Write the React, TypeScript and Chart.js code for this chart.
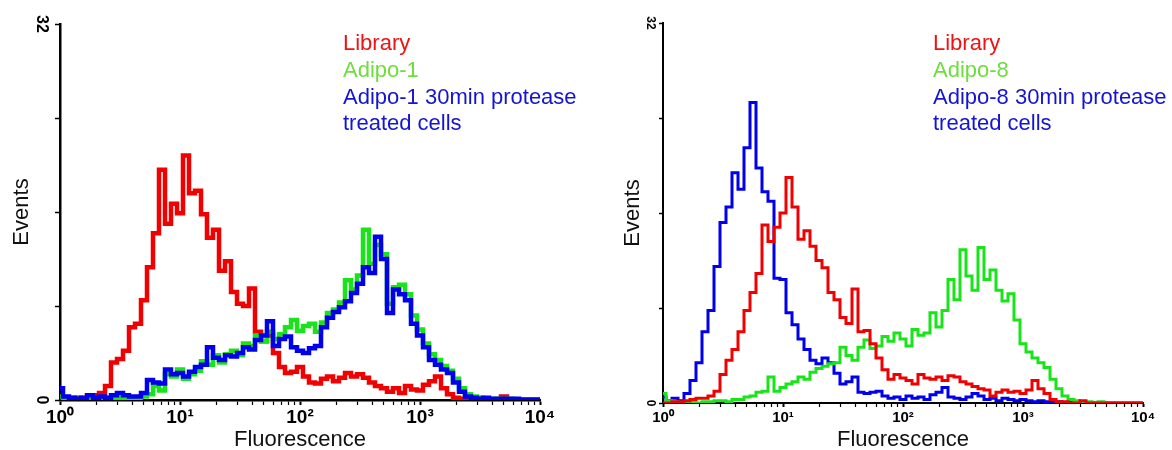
import React, { useEffect, useRef } from 'react';
import { Chart, registerables } from 'chart.js';

Chart.register(...registerables);

const FONT = "'Liberation Sans', Arial, Helvetica, sans-serif";
Chart.defaults.font.family = FONT;

// Histogram channel grid: 20 bins per decade from 10^0 to 10^4
const BINS_PER_DECADE = 20;
const BIN_X: number[] = Array.from({ length: 4 * BINS_PER_DECADE + 1 }, (_, i) => Math.pow(10, i / BINS_PER_DECADE));

// Axis ticks
const X_MAJOR = [1, 10, 100, 1000, 10000];
const X_TICK_LABELS = ['10⁰', '10¹', '10²', '10³', '10⁴'];
const X_TICK_VALUES: number[] = [];
for (let d = 0; d < 4; d++) for (let k = 1; k <= 9; k++) X_TICK_VALUES.push(k * Math.pow(10, d));
X_TICK_VALUES.push(10000);
const Y_TICK_VALUES = [0, 8, 16, 24, 32];
const Y_TICK_LABELS = ['0', '', '', '', '32'];

// Panel 1 (Adipo-1)
const LABELS_1 = ['Library', 'Adipo-1', 'Adipo-1 30min protease\ntreated cells'];
const LIBRARY_1 = [
  0.3, 0.1, 0.0, 0.2, 0.1, 0.3, 0.4, 0.6, 1.2, 3.2,
  3.5, 4.2, 6.2, 6.5, 8.5, 11.3, 14.2, 19.6, 15.0, 16.7,
  15.9, 20.8, 17.6, 17.8, 15.8, 13.8, 14.5, 11.0, 11.8, 9.2,
  8.2, 8.0, 9.5, 5.8, 5.0, 5.5, 4.0, 2.8, 2.3, 2.4,
  2.8, 2.0, 1.5, 1.4, 1.8, 2.0, 1.6, 1.9, 2.3, 2.0,
  2.2, 1.9, 1.5, 1.2, 1.0, 0.7, 1.0, 0.6, 1.2, 0.9,
  0.8, 1.3, 1.6, 2.0, 1.0, 0.5, 0.2, 0.1, 0.0, 0.0,
  0.0, 0.0, 0.0, 0.0, 0.3, 0.0, 0.0, 0.0, 0.0, 0.0, 0.0,
];
const ADIPO_1 = [
  0.3, 0.1, 0.1, 0.1, 0.1, 0.2, 0.1, 0.1, 0.1, 0.2,
  0.2, 0.1, 0.1, 0.1, 0.3, 0.5, 1.2, 0.8, 2.2, 2.0,
  2.6, 1.8, 2.2, 2.5, 3.3, 3.0, 3.8, 3.2, 3.9, 4.2,
  3.8, 4.8, 4.6, 5.5, 5.0, 5.8, 5.2, 5.6, 6.2, 6.8,
  5.9, 6.3, 6.5, 5.8, 6.6, 7.4, 7.7, 8.3, 10.2, 9.4,
  10.6, 14.5, 11.6, 13.2, 12.4, 8.2, 9.6, 9.8, 9.0, 7.2,
  6.0, 4.8, 3.9, 3.4, 2.9, 2.5, 1.8, 1.0, 0.5, 0.3,
  0.2, 0.1, 0.1, 0.1, 0.0, 0.1, 0.0, 0.0, 0.0, 0.0, 0.0,
];
const ADIPO_1_PROTEASE = [
  1.0, 0.3, 0.2, 0.1, 0.2, 0.4, 0.2, 0.3, 0.2, 0.4,
  0.6, 0.4, 0.3, 0.3, 0.6, 1.7, 1.5, 1.4, 2.6, 2.2,
  2.3, 2.0, 2.4, 2.8, 3.0, 4.5, 3.6, 3.4, 3.8, 3.7,
  4.0, 4.5, 4.3, 5.1, 5.5, 6.7, 4.6, 5.2, 5.4, 4.5,
  4.2, 4.0, 4.4, 4.6, 6.2, 7.0, 7.5, 7.9, 8.4, 9.1,
  9.9, 11.3, 10.8, 13.9, 12.0, 7.4, 9.4, 9.0, 8.5, 6.5,
  5.5, 4.5, 3.4, 3.0, 2.6, 2.3, 1.5, 0.7, 0.3, 0.2,
  0.1, 0.2, 0.1, 0.1, 0.1, 0.1, 0.1, 0.05, 0.05, 0.05, 0.05,
];

// Panel 2 (Adipo-8)
const LABELS_8 = ['Library', 'Adipo-8', 'Adipo-8 30min protease\ntreated cells'];
const LIBRARY_8 = [
  0.0, 0.0, 0.1, 0.1, 0.2, 0.3, 0.4, 0.4, 0.6, 1.0,
  2.4, 3.6, 4.5, 6.0, 7.8, 9.3, 10.9, 15.0, 13.6, 14.8,
  16.0, 19.0, 16.5, 13.8, 14.5, 13.2, 12.0, 11.4, 9.3, 8.7,
  7.2, 6.7, 9.6, 6.0, 6.1, 5.0, 3.8, 2.8, 2.0, 2.4,
  2.1, 1.9, 1.6, 2.4, 2.1, 2.0, 2.2, 1.9, 2.3, 2.2,
  1.8, 1.6, 1.4, 1.2, 1.1, 0.6, 0.9, 1.1, 0.9, 1.0,
  0.8, 1.1, 1.9, 1.2, 0.8, 0.3, 0.1, 0.1, 0.0, 0.0,
  0.2, 0.0, 0.0, 0.0, 0.0, 0.0, 0.0, 0.0, 0.0, 0.0, 0.0,
];
const ADIPO_8 = [
  0.8, 0.2, 0.1, 0.0, 0.0, 0.1, 0.0, 0.1, 0.1, 0.2,
  0.2, 0.1, 0.3, 0.3, 0.5, 0.6, 0.9, 1.0, 2.2, 1.0,
  1.3, 1.6, 1.8, 2.2, 2.0, 2.6, 2.9, 3.1, 3.3, 3.4,
  4.7, 4.0, 3.6, 4.7, 5.3, 4.6, 4.8, 5.6, 5.2, 5.9,
  5.4, 4.8, 6.2, 5.7, 5.9, 7.6, 6.4, 7.8, 10.4, 8.7,
  12.9, 10.7, 9.5, 13.1, 10.4, 11.2, 9.5, 8.6, 9.2, 7.0,
  5.0, 4.3, 3.8, 3.4, 3.0, 2.0, 1.2, 0.6, 0.3, 0.2,
  0.1, 0.1, 0.0, 0.1, 0.0, 0.0, 0.0, 0.0, 0.0, 0.0, 0.0,
];
const ADIPO_8_PROTEASE = [
  0.5, 0.2, 0.4, 0.2, 0.8, 1.9, 3.4, 6.0, 7.8, 11.5,
  15.2, 16.5, 19.4, 18.0, 21.5, 25.3, 19.8, 17.8, 17.0, 10.5,
  10.4, 7.6, 6.6, 5.4, 4.5, 3.6, 3.3, 3.8, 3.4, 2.5,
  1.6, 1.8, 2.2, 0.9, 0.8, 0.9, 1.0, 0.6, 0.4, 0.5,
  0.3, 0.6, 0.4, 0.5, 0.3, 0.7, 0.9, 1.3, 0.5, 0.4,
  0.3, 0.5, 0.8, 0.6, 0.3, 0.4, 0.2, 0.4, 0.3, 0.2,
  0.3, 0.2, 0.1, 0.2, 0.1, 0.1, 0.1, 0.0, 0.1, 0.0,
  0.0, 0.0, 0.0, 0.0, 0.0, 0.0, 0.0, 0.0, 0.0, 0.0, 0.0,
];

const LINE_COLORS = ['rgb(240,0,0)', 'rgb(25,228,25)', 'rgb(0,0,235)'];
const TEXT_COLORS = ['rgb(235,20,20)', 'rgb(110,222,60)', 'rgb(20,20,210)'];

type PanelSpec = {
  left: number;
  width: number;
  labels: string[];
  series: number[][];
  orders: number[];
  lineWidth: number;
  axisWidth: number;
  padding: { left: number; top: number; right: number; bottom: number };
  yWidth: number;
  xHeight: number;
  xTickFont: number;
  yTickFont: number;
  xTickPadding: number;
  yTickPadding: number;
  tickLength: number;
  yTitlePad: number;
  legendLeft: number;
};

function buildConfig(p: PanelSpec): any {
  return {
    type: 'line',
    data: {
      datasets: p.series.map((vals, si) => ({
        label: p.labels[si],
        data: BIN_X.map((x, i) => ({ x, y: vals[i] })),
        borderColor: LINE_COLORS[si],
        backgroundColor: LINE_COLORS[si],
        borderWidth: p.lineWidth,
        pointRadius: 0,
        stepped: 'middle',
        fill: false,
        order: p.orders[si],
      })),
    },
    options: {
      animation: false,
      responsive: false,
      events: [],
      layout: { padding: p.padding },
      plugins: { legend: { display: false }, tooltip: { enabled: false } },
      scales: {
        x: {
          type: 'logarithmic',
          min: 1,
          max: 10000,
          afterBuildTicks: (axis: any) => {
            axis.ticks = X_TICK_VALUES.map((v) => ({ value: v }));
          },
          afterFit: (axis: any) => {
            axis.height = p.xHeight;
          },
          ticks: {
            autoSkip: false,
            maxRotation: 0,
            minRotation: 0,
            padding: p.xTickPadding,
            color: '#000',
            font: { size: p.xTickFont, weight: 'bold', family: FONT },
            callback: (v: number) => {
              const idx = X_MAJOR.indexOf(Math.round(v));
              return idx >= 0 && Math.abs(v - X_MAJOR[idx]) < 1e-6 ? X_TICK_LABELS[idx] : '';
            },
          },
          grid: {
            display: true,
            drawOnChartArea: false,
            drawTicks: true,
            tickLength: p.tickLength,
            tickColor: '#000',
            tickWidth: (ctx: any) => (ctx.tick && X_MAJOR.indexOf(Math.round(ctx.tick.value)) >= 0 ? 2 : 1.2),
          },
          border: { display: true, color: '#000', width: p.axisWidth },
          title: {
            display: true,
            text: 'Fluorescence',
            color: '#111',
            font: { size: 22, family: FONT },
            padding: { top: 0, bottom: -3 },
          },
        },
        y: {
          type: 'linear',
          min: 0,
          max: 32,
          afterBuildTicks: (axis: any) => {
            axis.ticks = Y_TICK_VALUES.map((v) => ({ value: v }));
          },
          afterFit: (axis: any) => {
            axis.width = p.yWidth;
          },
          ticks: {
            minRotation: -90,
            maxRotation: -90,
            crossAlign: 'center',
            padding: p.yTickPadding,
            color: '#000',
            font: { size: p.yTickFont, weight: 'bold', family: FONT },
            callback: (v: number) => {
              const idx = Y_TICK_VALUES.indexOf(v);
              return idx >= 0 ? Y_TICK_LABELS[idx] : '';
            },
          },
          grid: {
            display: true,
            drawOnChartArea: false,
            drawTicks: true,
            tickLength: p.tickLength,
            tickColor: '#000',
            tickWidth: 1.5,
          },
          border: { display: true, color: '#000', width: p.axisWidth },
          title: {
            display: true,
            text: 'Events',
            color: '#111',
            font: { size: 22, family: FONT },
            padding: { top: p.yTitlePad, bottom: 0 },
          },
        },
      },
    },
  };
}

function Panel({ spec }: { spec: PanelSpec }) {
  const ref = useRef<HTMLCanvasElement>(null);
  useEffect(() => {
    if (!ref.current) return;
    const chart = new Chart(ref.current, buildConfig(spec));
    return () => chart.destroy();
  }, [spec]);
  return (
    <div style={{ position: 'absolute', left: spec.left, top: 0, width: spec.width, height: 450 }}>
      <canvas ref={ref} width={spec.width} height={450} style={{ display: 'block', width: spec.width, height: 450 }} />
      <div
        style={{
          position: 'absolute',
          left: spec.legendLeft,
          top: 30,
          fontFamily: FONT,
          fontSize: 22,
          lineHeight: '26.8px',
          whiteSpace: 'pre',
        }}
      >
        {spec.labels.map((l, i) => (
          <div key={i} style={{ color: TEXT_COLORS[i] }}>
            {l}
          </div>
        ))}
      </div>
    </div>
  );
}

const PANEL_1: PanelSpec = {
  left: 0,
  width: 580,
  labels: LABELS_1,
  series: [LIBRARY_1, ADIPO_1, ADIPO_1_PROTEASE],
  orders: [2, 1, 0],
  lineWidth: 4.5,
  axisWidth: 2.5,
  padding: { left: 0, top: 24, right: 40, bottom: 0 },
  yWidth: 60,
  xHeight: 50,
  xTickFont: 19,
  yTickFont: 16,
  xTickPadding: 1,
  yTickPadding: 5,
  tickLength: 5,
  yTitlePad: 9,
  legendLeft: 343,
};

const PANEL_8: PanelSpec = {
  left: 580,
  width: 592,
  labels: LABELS_8,
  series: [LIBRARY_8, ADIPO_8, ADIPO_8_PROTEASE],
  orders: [0, 1, 2],
  lineWidth: 3,
  axisWidth: 2,
  padding: { left: 0, top: 23, right: 29, bottom: 0 },
  yWidth: 83,
  xHeight: 47,
  xTickFont: 15,
  yTickFont: 12,
  xTickPadding: 2,
  yTickPadding: 2,
  tickLength: 4,
  yTitlePad: 40,
  legendLeft: 353,
};

export default function App() {
  return (
    <div style={{ position: 'absolute', left: 0, top: 0, width: 1172, height: 450, background: '#fff', overflow: 'hidden' }}>
      <Panel spec={PANEL_1} />
      <Panel spec={PANEL_8} />
    </div>
  );
}
